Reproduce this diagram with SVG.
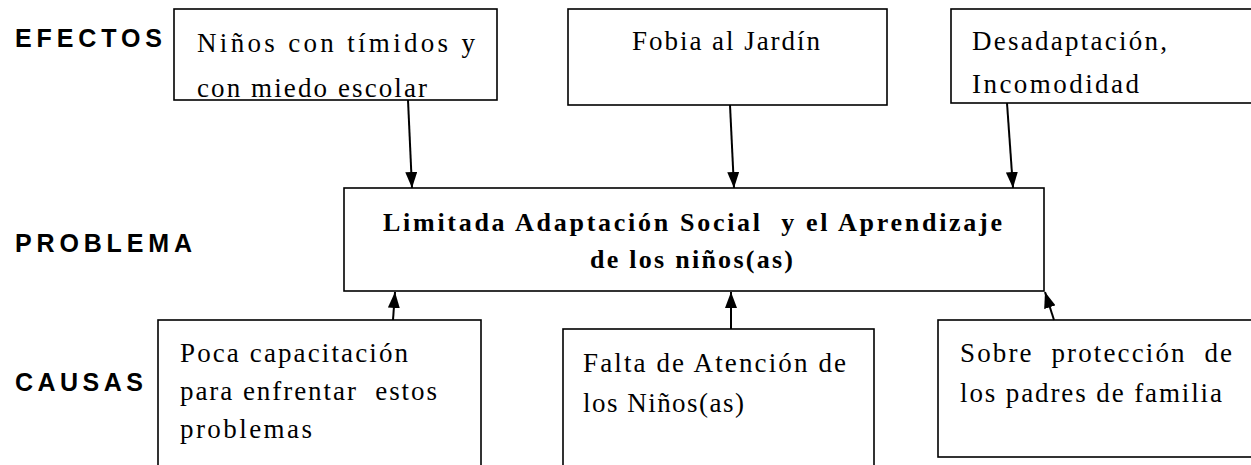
<svg xmlns="http://www.w3.org/2000/svg" width="1251" height="465" viewBox="0 0 1251 465">
<style>
.box{fill:#fff;stroke:#000;stroke-width:1.6}
.lbl{font-family:"Liberation Sans",Arial,sans-serif;font-weight:bold;font-size:25px;fill:#000}
.t{font-family:"Liberation Serif","Times New Roman",serif;font-size:27px;fill:#000;white-space:pre}
.tb{font-family:"Liberation Serif","Times New Roman",serif;font-size:26px;font-weight:bold;fill:#000;white-space:pre}
.con line{stroke:#000;stroke-width:2;marker-end:url(#ah)}
</style>
<defs>
<marker id="ah" viewBox="0 0 16 12" markerWidth="16" markerHeight="12" refX="16" refY="6" orient="auto" markerUnits="userSpaceOnUse">
<path d="M0,0 L16,6 L0,12 z" fill="#000"/>
</marker>
<clipPath id="c1"><rect x="174" y="9" width="323" height="88"/></clipPath>
</defs>
<rect width="1251" height="465" fill="#fff"/>
<g id="labels">
<text class="lbl" x="15" y="47" textLength="147" lengthAdjust="spacing">EFECTOS</text>
<text class="lbl" x="15" y="252" textLength="177" lengthAdjust="spacing">PROBLEMA</text>
<text class="lbl" x="15" y="391" textLength="128" lengthAdjust="spacing">CAUSAS</text>
</g>
<g id="efecto1">
<rect class="box" x="174" y="9" width="323" height="91"/>
<g clip-path="url(#c1)">
<text class="t" x="197" y="52" textLength="278" lengthAdjust="spacing">Niños con tímidos y</text>
<text class="t" x="197" y="97" textLength="230" lengthAdjust="spacing">con miedo escolar</text>
</g>
</g>
<g id="efecto2">
<rect class="box" x="568" y="9" width="319" height="96"/>
<text class="t" x="632" y="50" textLength="188" lengthAdjust="spacing">Fobia al Jardín</text>
</g>
<g id="efecto3">
<rect class="box" x="951" y="9" width="310" height="94"/>
<text class="t" x="972" y="50" textLength="195" lengthAdjust="spacing">Desadaptación,</text>
<text class="t" x="972" y="93" textLength="167" lengthAdjust="spacing">Incomodidad</text>
</g>
<g id="problema">
<rect class="box" x="344" y="188" width="700" height="103"/>
<text class="tb" x="383" y="231" textLength="619" lengthAdjust="spacing">Limitada Adaptación Social  y el Aprendizaje</text>
<text class="tb" x="590" y="268" textLength="203" lengthAdjust="spacing">de los niños(as)</text>
</g>
<g id="causa1">
<rect class="box" x="158" y="320" width="323" height="160"/>
<text class="t" x="180" y="362" textLength="228" lengthAdjust="spacing">Poca capacitación</text>
<text class="t" x="180" y="400" textLength="257" lengthAdjust="spacing">para enfrentar  estos</text>
<text class="t" x="180" y="438" textLength="132" lengthAdjust="spacing">problemas</text>
</g>
<g id="causa2">
<rect class="box" x="563" y="329" width="311" height="160"/>
<text class="t" x="583" y="372" textLength="263" lengthAdjust="spacing">Falta de Atención de</text>
<text class="t" x="583" y="412" textLength="161" lengthAdjust="spacing">los Niños(as)</text>
</g>
<g id="causa3">
<rect class="box" x="938" y="320" width="323" height="137"/>
<text class="t" x="960" y="362" textLength="272" lengthAdjust="spacing">Sobre  protección  de</text>
<text class="t" x="960" y="402" textLength="262" lengthAdjust="spacing">los padres de familia</text>
</g>
<g id="connectors" class="con">
<line x1="408" y1="100" x2="412" y2="188"/>
<line x1="730" y1="105" x2="734" y2="188"/>
<line x1="1007" y1="103" x2="1013" y2="188"/>
<line x1="393" y1="320" x2="395" y2="292"/>
<line x1="731" y1="329" x2="731" y2="292"/>
<line x1="1054" y1="320" x2="1045" y2="292"/>
</g>
</svg>
